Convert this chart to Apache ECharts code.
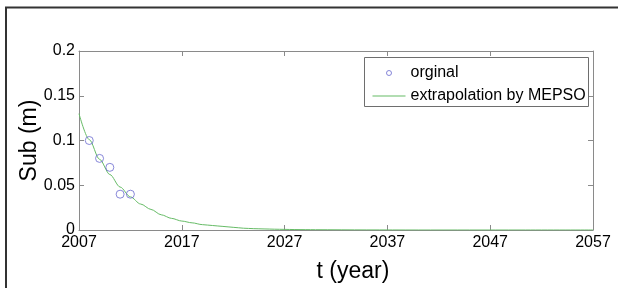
<!DOCTYPE html>
<html>
<head>
<meta charset="utf-8">
<script src="https://cdn.jsdelivr.net/npm/echarts@6/dist/echarts.min.js"></script>
<style>html,body{margin:0;padding:0;background:#fff;}#c{width:618px;height:288px;}</style>
</head>
<body>
<div id="c"></div>
<script>
// Data
var baseYear = 2007;
var xTickLabels = ['2007', '2017', '2027', '2037', '2047', '2057'];
var yTickLabels = ['0', '0.05', '0.1', '0.15', '0.2'];
var origYears = [2008, 2009, 2010, 2011, 2012];
var origValues = [0.10, 0.08, 0.07, 0.04, 0.04];
var fitYears = [2007, 2008, 2009, 2010, 2011, 2012, 2013, 2014, 2015, 2016, 2017, 2018, 2019, 2020,
  2021, 2022, 2023, 2024, 2025, 2026, 2027, 2028, 2029, 2030, 2035, 2040, 2045, 2050, 2057];
var fitValues = [0.130, 0.101, 0.079, 0.062, 0.048, 0.037, 0.029, 0.023, 0.017, 0.013, 0.010, 0.008, 0.006, 0.005,
  0.004, 0.003, 0.002, 0.0015, 0.0012, 0.0009, 0.0007, 0.0005, 0.0004, 0.0003, 0.0001, 0, 0, 0, 0];

var chart = echarts.init(document.getElementById('c'), null, {renderer: 'canvas'});
var FONT = '"Liberation Sans", Arial, sans-serif';
var axisGray = '#8a8a8a';
var markerColor = '#6a6ad0';
var lineColor = '#66bb66';

function pairs(xs, ys) {
  return xs.map(function (x, i) { return [x - baseYear, ys[i]]; });
}

var xCommon = {
  type: 'value', min: 0, max: 50, interval: 10,
  splitLine: {show: false},
  axisLine: {show: true, onZero: false, lineStyle: {color: axisGray, width: 1}},
  axisTick: {show: true, inside: true, length: 5, lineStyle: {color: axisGray}}
};
var yCommon = {
  type: 'value', min: 0, max: 0.2, interval: 0.05,
  splitLine: {show: false},
  axisLine: {show: true, onZero: false, lineStyle: {color: axisGray, width: 1}},
  axisTick: {show: true, inside: true, length: 5, lineStyle: {color: axisGray}}
};

var option = {
  backgroundColor: '#fff',
  animation: false,
  grid: {left: 79, right: 25, top: 51, bottom: 57, containLabel: false},
  xAxis: [
    Object.assign({}, xCommon, {
      position: 'bottom',
      name: 't (year)', nameLocation: 'middle', nameGap: 30, nameMoveOverlap: false,
      nameTextStyle: {fontFamily: FONT, fontSize: 23, color: '#000', padding: [0, 0, 0, 34]},
      axisLabel: {show: true, margin: 5, fontFamily: FONT, fontSize: 16, color: '#000',
        formatter: function (v) { return xTickLabels[Math.round(v / 10)]; }}
    }),
    Object.assign({}, xCommon, {position: 'top', axisLabel: {show: false}})
  ],
  yAxis: [
    Object.assign({}, yCommon, {
      position: 'left',
      name: 'Sub (m)', nameLocation: 'middle', nameGap: 38, nameMoveOverlap: false,
      nameTextStyle: {fontFamily: FONT, fontSize: 23, color: '#000'},
      axisLabel: {show: true, margin: 4, fontFamily: FONT, fontSize: 16, color: '#000',
        formatter: function (v) { return yTickLabels[Math.round(v / 0.05)]; }}
    }),
    Object.assign({}, yCommon, {position: 'right', axisLabel: {show: false}})
  ],
  legend: {
    orient: 'vertical', left: 372, top: 65, padding: 0,
    itemWidth: 33, itemHeight: 14, itemGap: 7,
    textStyle: {fontFamily: FONT, fontSize: 16, color: '#000'},
    z: 6,
    symbolKeepAspect: false,
    data: [
      {name: 'orginal',
        icon: 'path://M0,0M33,14M14,7a2.5,2.5 0 1,0 5,0a2.5,2.5 0 1,0 -5,0',
        itemStyle: {color: 'rgba(0,0,0,0)', borderColor: markerColor, borderWidth: 1}},
      {name: 'extrapolation by MEPSO',
        icon: 'path://M0,0M33,14M0,6.5L33,6.5L33,7.5L0,7.5Z',
        itemStyle: {color: lineColor, borderWidth: 0}}
    ]
  },
  graphic: [
    {type: 'rect', z: 0, silent: true,
      shape: {x: 6, y: 7.5, width: 800, height: 400},
      style: {fill: 'rgba(0,0,0,0)', stroke: '#333', lineWidth: 2}},
    {type: 'rect', z: 5, silent: true,
      shape: {x: 364.5, y: 57.5, width: 224, height: 49},
      style: {fill: '#fff', stroke: '#6e6e6e', lineWidth: 1}}
  ],
  series: [
    {
      name: 'extrapolation by MEPSO', type: 'line',
      data: pairs(fitYears, fitValues),
      smooth: 0.3, smoothMonotone: 'x',
      showSymbol: false, symbol: 'none',
      lineStyle: {color: lineColor, width: 1},
      itemStyle: {color: lineColor},
      z: 2
    },
    {
      name: 'orginal', type: 'scatter',
      data: pairs(origYears, origValues),
      symbol: 'circle', symbolSize: 8,
      itemStyle: {color: 'rgba(0,0,0,0)', borderColor: markerColor, borderWidth: 1},
      z: 3
    }
  ]
};
chart.setOption(option);
</script>
</body>
</html>
